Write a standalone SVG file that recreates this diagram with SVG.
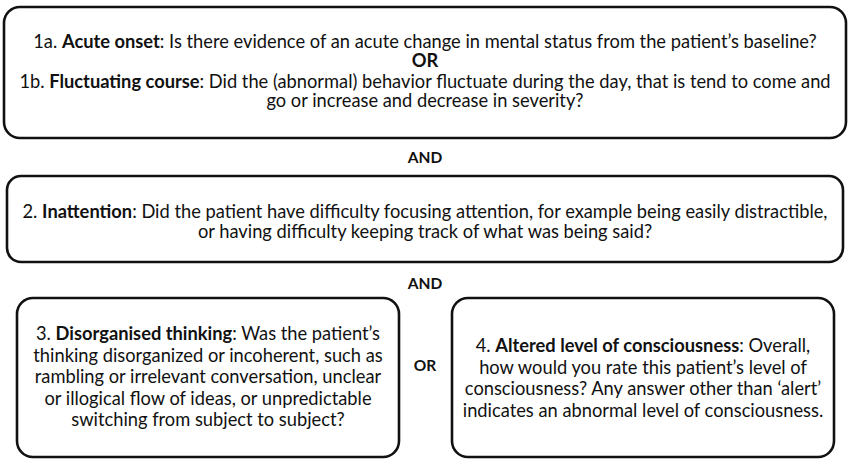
<svg xmlns="http://www.w3.org/2000/svg" width="850" height="463" viewBox="0 0 850 463">
<style>
.box{fill:#fff;stroke:#111;stroke-width:2.6}
text{font-family:Lato,"Liberation Sans",sans-serif;font-size:18.3px;fill:#111;text-anchor:middle}
.b{font-weight:bold}
.c{font-weight:bold;font-size:15.5px}
</style>
<rect width="850" height="463" fill="#fff"/>
<g id="node1">
<rect class="box" x="4" y="7" width="842" height="131" rx="16"/>
<text x="425" y="48">1a. <tspan class="b">Acute onset</tspan>: Is there evidence of an acute change in mental status from the patient’s baseline?</text>
<text x="425" y="67" class="b">OR</text>
<text x="425" y="88">1b. <tspan class="b">Fluctuating course</tspan>: Did the (abnormal) behavior fluctuate during the day, that is tend to come and</text>
<text x="425" y="107">go or increase and decrease in severity?</text>
</g>
<g id="and1"><text x="425" y="163" class="c">AND</text></g>
<g id="node2">
<rect class="box" x="7" y="176" width="836" height="86" rx="14"/>
<text x="425" y="218">2. <tspan class="b">Inattention</tspan>: Did the patient have difficulty focusing attention, for example being easily distractible,</text>
<text x="425" y="238">or having difficulty keeping track of what was being said?</text>
</g>
<g id="and2"><text x="425" y="289" class="c">AND</text></g>
<g id="node3">
<rect class="box" x="17" y="298" width="382" height="159" rx="16"/>
<text x="208" y="340">3. <tspan class="b">Disorganised thinking</tspan>: Was the patient’s</text>
<text x="208" y="361.5">thinking disorganized or incoherent, such as</text>
<text x="208" y="383">rambling or irrelevant conversation, unclear</text>
<text x="208" y="404.5">or illogical flow of ideas, or unpredictable</text>
<text x="208" y="426">switching from subject to subject?</text>
</g>
<g id="or"><text x="425" y="371" class="c">OR</text></g>
<g id="node4">
<rect class="box" x="452" y="298" width="382" height="159" rx="16"/>
<text x="643" y="352">4. <tspan class="b">Altered level of consciousness</tspan>: Overall,</text>
<text x="643" y="373.5">how would you rate this patient’s level of</text>
<text x="643" y="395">consciousness? Any answer other than ‘alert’</text>
<text x="643" y="416.5">indicates an abnormal level of consciousness.</text>
</g>
<g id="connectors"></g>
</svg>
